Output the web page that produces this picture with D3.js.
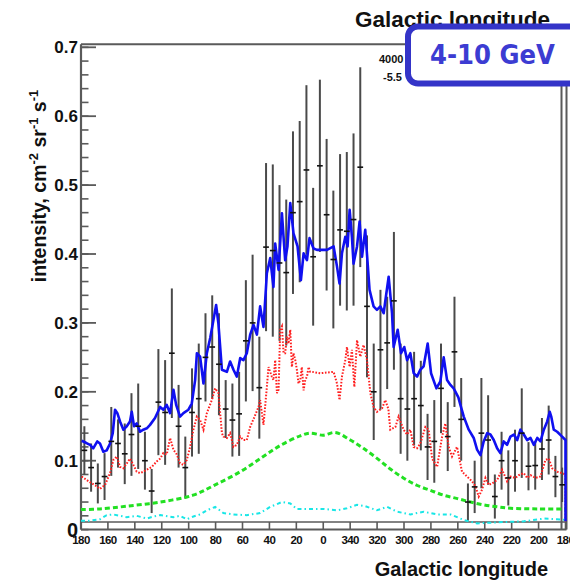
<!DOCTYPE html>
<html><head><meta charset="utf-8">
<script src="https://cdn.jsdelivr.net/npm/d3@7"></script>
<style>body{margin:0;background:#fff}svg{display:block}</style>
</head><body>
<script>
// ---------- data ----------
const yTicks = [0.1,0.2,0.3,0.4,0.5,0.6,0.7];
const xTicks = [180,160,140,120,100,80,60,40,20,0,-20,-40,-60,-80,-100,-120,-140,-160,-180];
const xTickLabels = ["180","160","140","120","100","80","60","40","20","0","340","320","300","280","260","240","220","200","180"];
const binHalf = 2.5;
const dataLon = [177.5,172.5,167.5,162.5,157.5,152.5,147.5,142.5,137.5,132.5,127.5,122.5,117.5,112.5,107.5,102.5,97.5,92.5,87.5,82.5,77.5,72.5,67.5,62.5,57.5,52.5,47.5,42.5,37.5,32.5,27.5,22.5,17.5,12.5,7.5,2.5,-2.5,-7.5,-12.5,-17.5,-22.5,-27.5,-32.5,-37.5,-42.5,-47.5,-52.5,-57.5,-62.5,-67.5,-72.5,-77.5,-82.5,-87.5,-92.5,-97.5,-102.5,-107.5,-112.5,-117.5,-122.5,-127.5,-132.5,-137.5,-142.5,-147.5,-152.5,-157.5,-162.5,-167.5,-172.5,-177.5];
const dataVal = [0.115,0.090,0.067,0.077,0.128,0.125,0.110,0.138,0.150,0.100,0.056,0.185,0.170,0.256,0.150,0.090,0.170,0.190,0.250,0.265,0.240,0.175,0.159,0.168,0.274,0.300,0.206,0.410,0.405,0.387,0.373,0.460,0.476,0.522,0.396,0.528,0.457,0.392,0.435,0.433,0.450,0.526,0.324,0.200,0.261,0.271,0.332,0.190,0.175,0.190,0.180,0.120,0.128,0.205,0.135,0.258,0.160,0.040,0.062,0.140,0.130,0.048,0.100,0.075,0.100,0.140,0.092,0.093,0.117,0.130,0.077,0.065];
const dataErr = [0.035,0.035,0.029,0.034,0.050,0.035,0.044,0.060,0.062,0.042,0.032,0.077,0.076,0.094,0.060,0.045,0.064,0.080,0.064,0.075,0.074,0.042,0.053,0.061,0.088,0.099,0.074,0.122,0.125,0.113,0.106,0.118,0.117,0.123,0.100,0.125,0.110,0.100,0.110,0.115,0.125,0.145,0.103,0.070,0.087,0.067,0.100,0.080,0.075,0.068,0.065,0.048,0.060,0.065,0.050,0.080,0.060,0.027,0.038,0.080,0.065,0.032,0.042,0.040,0.045,0.065,0.035,0.035,0.045,0.050,0.030,0.025];

const totalLon = [179.5,176.3,173.3,170.9,167.9,165.9,163.4,160.9,158.4,156.4,154.7,153.0,151.0,148.5,146.0,143.6,142.3,140.6,138.6,136.1,133.7,131.1,128.7,125.0,121.2,118.8,116.3,113.8,111.3,109.3,106.4,103.9,100.2,97.7,95.2,93.9,91.5,89.0,86.5,84.0,81.6,79.6,77.9,75.3,71.6,69.2,66.7,64.2,61.7,59.3,56.8,54.3,51.8,49.3,46.9,44.4,41.9,39.4,37.0,35.7,33.2,30.7,28.3,26.6,24.5,22.1,19.1,16.6,14.6,12.1,10.2,7.2,4.7,-2.8,-7.7,-10.2,-12.1,-13.9,-16.4,-18.1,-19.6,-21.3,-22.5,-25.1,-27.0,-28.8,-31.2,-33.0,-34.4,-37.4,-39.9,-42.4,-44.9,-46.9,-48.6,-51.1,-52.3,-55.3,-57.8,-60.2,-62.3,-64.7,-67.2,-69.7,-72.1,-74.6,-77.6,-80.1,-84.1,-87.0,-89.5,-92.0,-94.5,-96.9,-100.4,-101.9,-104.4,-108.1,-111.8,-114.3,-116.8,-119.2,-121.8,-124.2,-126.7,-129.2,-131.6,-134.1,-136.6,-139.1,-141.6,-144.1,-146.5,-149.0,-151.5,-154.0,-156.5,-159.0,-161.4,-163.9,-166.4,-168.3,-169.4,-171.3,-173.8,-177.5,-180,-180];
const totalVal = [0.129,0.126,0.123,0.118,0.128,0.125,0.113,0.115,0.125,0.140,0.174,0.169,0.157,0.145,0.150,0.157,0.171,0.150,0.154,0.142,0.145,0.147,0.152,0.162,0.178,0.174,0.181,0.169,0.203,0.181,0.164,0.169,0.174,0.183,0.217,0.256,0.251,0.212,0.256,0.278,0.304,0.326,0.299,0.232,0.229,0.244,0.232,0.222,0.249,0.246,0.256,0.283,0.297,0.283,0.324,0.294,0.372,0.394,0.352,0.415,0.377,0.459,0.391,0.411,0.474,0.430,0.411,0.362,0.401,0.391,0.423,0.408,0.406,0.406,0.411,0.382,0.357,0.401,0.425,0.411,0.464,0.425,0.386,0.411,0.447,0.396,0.435,0.386,0.348,0.324,0.319,0.324,0.314,0.343,0.367,0.314,0.265,0.290,0.256,0.265,0.246,0.256,0.227,0.222,0.232,0.237,0.270,0.227,0.205,0.215,0.250,0.217,0.210,0.205,0.192,0.181,0.164,0.145,0.133,0.116,0.108,0.128,0.140,0.138,0.130,0.118,0.111,0.128,0.123,0.135,0.138,0.130,0.145,0.138,0.130,0.133,0.123,0.133,0.128,0.145,0.157,0.171,0.164,0.145,0.142,0.135,0.130,0.012];

const gasLon = [179.5,175.8,172.0,168.3,165.9,162.1,158.4,156.0,153.4,151.0,148.5,146.0,143.6,141.1,138.6,136.1,133.7,131.1,127.4,123.7,121.2,118.8,116.3,113.8,111.3,108.8,106.4,103.9,101.4,98.9,96.5,93.9,91.5,89.0,86.5,82.8,80.3,77.9,75.3,74.2,71.6,69.2,66.7,64.2,61.7,59.3,56.8,54.3,50.6,48.1,46.9,44.4,41.9,40.7,38.2,37.0,35.7,34.4,33.2,32.0,30.7,29.5,28.3,27.0,25.8,24.5,23.3,22.1,20.8,19.6,18.4,17.1,15.9,14.6,13.4,12.1,10.9,9.7,8.4,2.2,-7.7,-10.2,-12.1,-13.9,-16.4,-17.6,-19.6,-21.3,-23.1,-25.1,-27.5,-30.0,-32.5,-35.0,-37.4,-39.9,-43.7,-46.1,-48.4,-49.8,-53.6,-56.0,-59.7,-62.3,-64.7,-67.2,-69.7,-72.1,-75.9,-78.3,-80.9,-84.6,-88.3,-90.7,-93.2,-95.7,-99.4,-103.1,-106.9,-110.6,-113.1,-115.5,-118.0,-120.5,-122.9,-125.5,-129.2,-132.9,-136.6,-139.1,-142.8,-145.3,-149.0,-151.5,-154.0,-157.7,-161.4,-165.1,-167.6,-170.1,-173.8,-177.5,-180,-180];
const gasVal = [0.077,0.072,0.067,0.063,0.059,0.065,0.082,0.101,0.106,0.091,0.089,0.096,0.103,0.094,0.084,0.082,0.084,0.087,0.091,0.099,0.103,0.111,0.109,0.133,0.116,0.109,0.096,0.094,0.101,0.120,0.145,0.164,0.159,0.145,0.169,0.188,0.205,0.198,0.140,0.135,0.133,0.140,0.120,0.123,0.135,0.130,0.130,0.149,0.166,0.178,0.188,0.152,0.207,0.236,0.222,0.217,0.246,0.198,0.203,0.290,0.295,0.256,0.256,0.280,0.270,0.290,0.236,0.256,0.246,0.232,0.212,0.217,0.236,0.202,0.217,0.222,0.236,0.229,0.229,0.227,0.229,0.212,0.188,0.222,0.246,0.265,0.236,0.261,0.207,0.275,0.251,0.268,0.246,0.198,0.178,0.171,0.176,0.188,0.175,0.145,0.149,0.164,0.145,0.138,0.145,0.120,0.118,0.125,0.149,0.145,0.103,0.091,0.135,0.154,0.120,0.106,0.120,0.084,0.077,0.070,0.063,0.048,0.058,0.075,0.065,0.067,0.072,0.087,0.070,0.077,0.075,0.079,0.082,0.075,0.079,0.075,0.077,0.101,0.103,0.089,0.084,0.082,0.080,0.012];

const icLon = [180,165.9,145.8,121.2,96.7,80.3,61.7,45.4,32.0,17.1,9.7,0.0,-8.9,-20.1,-29.8,-40.2,-49.8,-59.5,-69.9,-79.6,-89.3,-99.7,-109.4,-119.0,-129.4,-139.1,-159.2,-180];
const icVal = [0.029,0.030,0.034,0.040,0.050,0.065,0.084,0.105,0.122,0.136,0.140,0.137,0.141,0.130,0.118,0.103,0.088,0.075,0.064,0.057,0.050,0.045,0.040,0.036,0.033,0.031,0.030,0.030];

const isoLon = [180,173.3,165.9,160.9,156.0,151.0,146.0,138.6,131.1,126.2,121.2,111.3,106.4,101.4,96.5,91.5,86.5,80.3,74.2,66.7,56.8,46.9,39.4,30.7,24.5,19.6,9.7,0.0,-10.2,-17.6,-25.1,-31.2,-39.9,-47.4,-54.8,-64.7,-74.6,-84.6,-94.5,-104.4,-114.3,-124.2,-134.1,-149.0,-163.9,-173.8,-180];
const isoVal = [0.013,0.013,0.015,0.021,0.022,0.020,0.018,0.020,0.016,0.019,0.021,0.018,0.020,0.015,0.019,0.022,0.028,0.033,0.024,0.022,0.021,0.024,0.033,0.040,0.038,0.030,0.030,0.030,0.028,0.031,0.036,0.034,0.028,0.033,0.026,0.022,0.026,0.022,0.022,0.014,0.009,0.010,0.011,0.012,0.016,0.015,0.014];

const baseLineVal = 0.011;

// ---------- drawing ----------
const W = 570, H = 581;
const svg = d3.select("body").append("svg").attr("width", W).attr("height", H)
  .style("font-family", "'Liberation Sans', Arial, Helvetica, sans-serif");
svg.append("rect").attr("width", W).attr("height", H).attr("fill", "#fff");

const x = d3.scaleLinear().domain([180, -180]).range([81, 565.5]);
const y = d3.scaleLinear().domain([0, 0.7]).range([529.6, 47.3]);
const frameTop = 44.3, frameRight = 566.5;
const axisCol = "#5a5a5a";

// frame
const g = svg.append("g");
g.append("line").attr("x1", x(180)).attr("x2", frameRight).attr("y1", frameTop).attr("y2", frameTop).attr("stroke", axisCol).attr("stroke-width", 2);
g.append("line").attr("x1", x(180)).attr("x2", x(180)).attr("y1", frameTop).attr("y2", y(0)).attr("stroke", axisCol).attr("stroke-width", 2.2);
g.append("line").attr("x1", frameRight).attr("x2", frameRight).attr("y1", frameTop).attr("y2", y(0)).attr("stroke", axisCol).attr("stroke-width", 2);
g.append("line").attr("x1", x(-180) - 4).attr("x2", x(-180) - 4).attr("y1", frameTop).attr("y2", y(0)).attr("stroke", axisCol).attr("stroke-width", 2);
g.append("line").attr("x1", x(180)).attr("x2", frameRight).attr("y1", y(0)).attr("y2", y(0)).attr("stroke", axisCol).attr("stroke-width", 2);
g.append("line").attr("x1", x(180)).attr("x2", frameRight).attr("y1", y(baseLineVal)).attr("y2", y(baseLineVal)).attr("stroke", axisCol).attr("stroke-width", 1.6);

// y axis ticks (inward)
const yMinor = d3.range(0, 0.7001, 0.02);
g.selectAll(".ymin").data(yMinor).enter().append("line")
  .attr("x1", x(180)).attr("x2", x(180) + 7.5)
  .attr("y1", d => y(d)).attr("y2", d => y(d)).attr("stroke", axisCol).attr("stroke-width", 1.6);
g.selectAll(".ymaj").data(yTicks).enter().append("line")
  .attr("x1", x(180)).attr("x2", x(180) + 15)
  .attr("y1", d => y(d)).attr("y2", d => y(d)).attr("stroke", axisCol).attr("stroke-width", 1.8);
g.selectAll(".ylab").data(yTicks).enter().append("text")
  .attr("x", 78).attr("y", d => y(d) + 6).attr("text-anchor", "end")
  .attr("font-size", 17).attr("font-weight", "bold").attr("fill", "#111")
  .text(d => d.toFixed(1));

// x axis ticks
g.selectAll(".xt").data(xTicks).enter().append("line")
  .attr("x1", d => x(d)).attr("x2", d => x(d))
  .attr("y1", y(baseLineVal)).attr("y2", y(0)).attr("stroke", axisCol).attr("stroke-width", 1.6);
g.selectAll(".xl").data(xTicks).enter().append("text")
  .attr("x", d => x(d)).attr("y", 543.5).attr("text-anchor", "middle")
  .attr("font-size", 11.5).attr("font-weight", "bold").attr("fill", "#111")
  .attr("letter-spacing", -0.6)
  .text((d, i) => xTickLabels[i]);
// zero label
g.append("text").attr("x", 78).attr("y", 536.5).attr("text-anchor", "end")
  .attr("font-size", 20).attr("font-weight", "bold").attr("fill", "#111").text("0");

// error bars
const pts = dataLon.map((l, i) => ({l, v: dataVal[i], e: dataErr[i]}));
const dg = svg.append("g");
dg.selectAll(".eb").data(pts).enter().append("line")
  .attr("x1", d => x(d.l)).attr("x2", d => x(d.l))
  .attr("y1", d => y(Math.min(d.v + d.e, 0.7))).attr("y2", d => y(Math.max(d.v - d.e, 0)))
  .attr("stroke", "#4a4a4a").attr("stroke-width", 2);

// curves
const lineOf = (lons, vals, curve) => d3.line().x((d, i) => x(lons[i])).y(d => y(d)).curve(curve || d3.curveLinear)(vals);
const cg = svg.append("g");
cg.append("path").attr("d", lineOf(isoLon, isoVal)).attr("fill", "none")
  .attr("stroke", "#19e6e6").attr("stroke-width", 2).attr("stroke-dasharray", "4,3,1.5,3");
cg.append("path").attr("d", lineOf(icLon, icVal, d3.curveCatmullRom)).attr("fill", "none")
  .attr("stroke", "#22e022").attr("stroke-width", 3).attr("stroke-dasharray", "5,3");
cg.append("path").attr("d", lineOf(gasLon, gasVal)).attr("fill", "none")
  .attr("stroke", "#ff2020").attr("stroke-width", 2).attr("stroke-dasharray", "1.6,1.6");
cg.append("path").attr("d", lineOf(totalLon, totalVal)).attr("fill", "none")
  .attr("stroke", "#1010f0").attr("stroke-width", 2.6).attr("stroke-linejoin", "round");

// bin dashes
svg.append("g").selectAll(".dash").data(pts).enter().append("line")
  .attr("x1", d => x(d.l + binHalf) + 0.5).attr("x2", d => x(d.l - binHalf) - 0.5)
  .attr("y1", d => y(d.v)).attr("y2", d => y(d.v))
  .attr("stroke", "#111").attr("stroke-width", 1.6);

// axis titles
svg.append("text").attr("x", 548).attr("y", 575.5).attr("text-anchor", "end")
  .attr("font-size", 20).attr("font-weight", "bold").attr("fill", "#111").text("Galactic longitude");
svg.append("text").attr("x", 550).attr("y", 27).attr("text-anchor", "end")
  .attr("font-size", 22.5).attr("font-weight", "bold").attr("fill", "#111").text("Galactic longitude");

const yt = svg.append("text").attr("transform", "translate(46,186) rotate(-90)")
  .attr("text-anchor", "middle").attr("font-size", 19.5).attr("font-weight", "bold").attr("fill", "#111");
yt.append("tspan").text("intensity, cm");
yt.append("tspan").attr("dy", -8).attr("font-size", 13).text("-2");
yt.append("tspan").attr("dy", 8).text(" sr");
yt.append("tspan").attr("dy", -8).attr("font-size", 13).text("-1");
yt.append("tspan").attr("dy", 8).text(" s");
yt.append("tspan").attr("dy", -8).attr("font-size", 13).text("-1");

// stats fragments
svg.append("text").attr("x", 379).attr("y", 63).attr("font-size", 11).attr("font-weight", "bold").attr("fill", "#111").text("4000");
svg.append("text").attr("x", 383).attr("y", 81).attr("font-size", 11).attr("font-weight", "bold").attr("fill", "#111").text("-5.5");

// label box
svg.append("rect").attr("x", 408).attr("y", 26.5).attr("width", 180).attr("height", 57).attr("rx", 10)
  .attr("fill", "#fff").attr("stroke", "#3434c8").attr("stroke-width", 6);
svg.append("text").attr("x", 430).attr("y", 64).attr("font-size", 27).attr("font-weight", "bold")
  .attr("font-family", "'Comic Sans MS', 'DejaVu Sans', sans-serif")
  .attr("fill", "#3c3cd2").attr("textLength", 125).attr("lengthAdjust", "spacingAndGlyphs").text("4-10 GeV");
</script>
</body></html>
